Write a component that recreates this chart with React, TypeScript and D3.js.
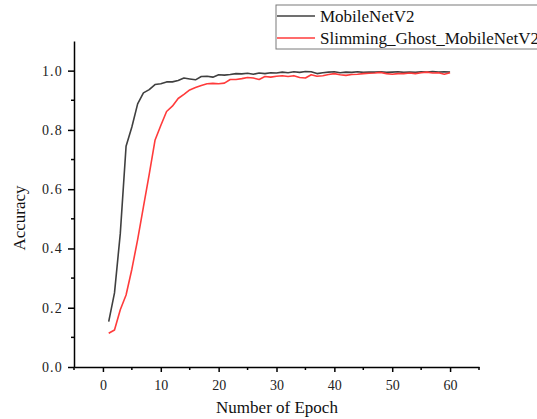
import React, { useEffect, useRef } from 'react';
import * as d3 from 'd3';

const epochs = d3.range(1, 61);

const mobileNetV2 = [
  0.153, 0.25, 0.45, 0.745, 0.81, 0.888, 0.925, 0.936, 0.953, 0.956,
  0.962, 0.962, 0.967, 0.975, 0.972, 0.969, 0.98, 0.981, 0.978, 0.986,
  0.985, 0.987, 0.99, 0.989, 0.991, 0.988, 0.992, 0.99, 0.993, 0.992,
  0.995, 0.993, 0.996, 0.994, 0.997, 0.996, 0.99, 0.993, 0.995, 0.996,
  0.993, 0.995, 0.994, 0.996, 0.994, 0.995, 0.995, 0.996, 0.994, 0.995,
  0.996, 0.994, 0.995, 0.994, 0.996, 0.995, 0.997, 0.995, 0.996, 0.995
];

const slimmingGhost = [
  0.114, 0.125, 0.193, 0.243, 0.33, 0.43, 0.54, 0.65, 0.765, 0.815,
  0.862, 0.88, 0.906, 0.92, 0.935, 0.943, 0.95, 0.956, 0.957, 0.956,
  0.958, 0.97, 0.97, 0.973, 0.977, 0.975, 0.97, 0.98, 0.978, 0.981,
  0.983, 0.98, 0.983, 0.977, 0.975, 0.986, 0.981, 0.983, 0.987, 0.99,
  0.986, 0.984, 0.987, 0.988, 0.99, 0.991, 0.992, 0.994, 0.99, 0.988,
  0.99, 0.99, 0.992, 0.99, 0.993, 0.995, 0.992, 0.993, 0.988, 0.993
];

const seriesNames = ['MobileNetV2', 'Slimming_Ghost_MobileNetV2'];
const seriesColors = ['#404040', '#ff3b3b'];

const App = () => {
  const ref = useRef<SVGSVGElement>(null);

  useEffect(() => {
    const svg = d3.select(ref.current);
    svg.selectAll('*').remove();

    const font = '"Liberation Serif", "Times New Roman", serif';

    // plot area
    const x = d3.scaleLinear().domain([-5, 65]).range([74, 479]);
    const y = d3.scaleLinear().domain([0, 1.1]).range([367, 41]);

    // minor ticks
    const xMinor = d3.range(-5, 66, 10);
    const yMinor = d3.range(0.1, 1.1, 0.2);

    svg.append('g')
      .selectAll('line')
      .data(xMinor)
      .enter()
      .append('line')
      .attr('x1', d => x(d)).attr('x2', d => x(d))
      .attr('y1', 367).attr('y2', 370)
      .attr('stroke', '#000').attr('stroke-width', 1.5);

    svg.append('g')
      .selectAll('line')
      .data(yMinor)
      .enter()
      .append('line')
      .attr('x1', 74).attr('x2', 71)
      .attr('y1', d => y(d)).attr('y2', d => y(d))
      .attr('stroke', '#000').attr('stroke-width', 1.5);

    // x axis
    const xAxis = d3.axisBottom(x)
      .tickValues(d3.range(0, 61, 10))
      .tickSize(5)
      .tickSizeOuter(0)
      .tickPadding(8);
    const gx = svg.append('g')
      .attr('transform', 'translate(0,367)')
      .call(xAxis);
    gx.select('.domain').attr('stroke-width', 1.5);
    gx.selectAll('.tick line').attr('stroke-width', 1.5);
    gx.selectAll('.tick text')
      .attr('font-family', font)
      .attr('font-size', 14)
      .attr('fill', '#222');

    // y axis
    const yAxis = d3.axisLeft(y)
      .tickValues(d3.range(0, 1.01, 0.2))
      .tickFormat(d3.format('.1f'))
      .tickSize(6)
      .tickSizeOuter(0)
      .tickPadding(5);
    const gy = svg.append('g')
      .attr('transform', 'translate(74,0)')
      .call(yAxis);
    gy.select('.domain').attr('stroke-width', 1.5);
    gy.selectAll('.tick line').attr('stroke-width', 1.5);
    gy.selectAll('.tick text')
      .attr('font-family', font)
      .attr('font-size', 14)
      .attr('letter-spacing', 1.2)
      .attr('fill', '#222');

    // lines
    const line = d3.line<number>()
      .x((d, i) => x(epochs[i]))
      .y(d => y(d));

    [mobileNetV2, slimmingGhost].forEach((s, i) => {
      svg.append('path')
        .datum(s)
        .attr('d', line)
        .attr('fill', 'none')
        .attr('stroke', seriesColors[i])
        .attr('stroke-width', 1.6)
        .attr('stroke-linejoin', 'round');
    });

    // axis titles
    svg.append('text')
      .attr('x', 277).attr('y', 413)
      .attr('text-anchor', 'middle')
      .attr('font-family', font)
      .attr('font-size', 17)
      .attr('fill', '#111')
      .text('Number of Epoch');

    svg.append('text')
      .attr('transform', 'translate(25,218) rotate(-90)')
      .attr('text-anchor', 'middle')
      .attr('font-family', font)
      .attr('font-size', 17)
      .attr('fill', '#111')
      .text('Accuracy');

    // legend
    svg.append('rect')
      .attr('x', 276).attr('y', 5)
      .attr('width', 270).attr('height', 44)
      .attr('fill', '#fff')
      .attr('stroke', '#7a7a7a')
      .attr('stroke-width', 1);

    const legend = svg.append('g')
      .selectAll('g')
      .data(seriesNames)
      .enter()
      .append('g')
      .attr('transform', (d, i) => 'translate(0,' + (16 + i * 22) + ')');

    legend.append('line')
      .attr('x1', 277).attr('x2', 315)
      .attr('y1', 0).attr('y2', 0)
      .attr('stroke', (d, i) => seriesColors[i])
      .attr('stroke-width', 1.6);

    legend.append('text')
      .attr('x', 320).attr('y', 6)
      .attr('font-family', font)
      .attr('font-size', 17)
      .attr('fill', '#111')
      .text(d => d);
  }, []);

  return (
    <svg ref={ref} width="537" height="419"
         style={{ position: 'absolute', left: 0, top: 0, background: '#fff' }} />
  );
};

export default App;
